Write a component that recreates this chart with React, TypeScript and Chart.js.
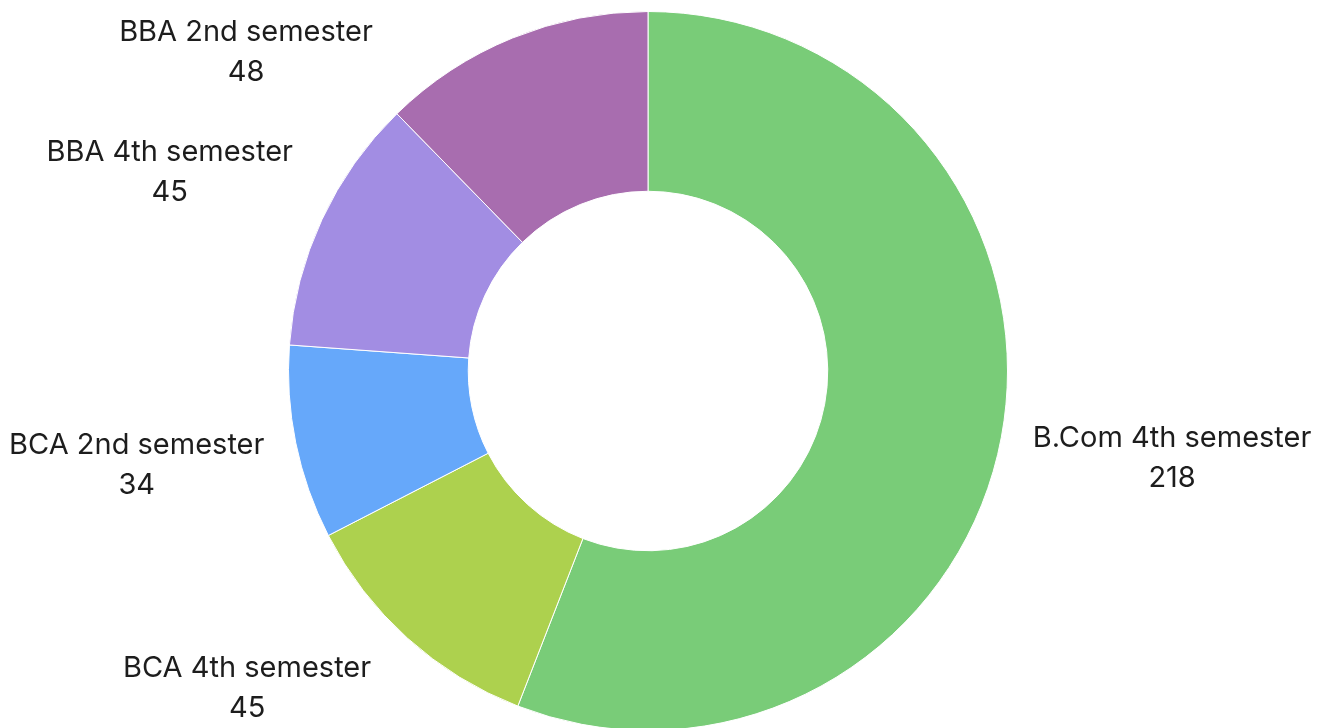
import React, { useEffect, useRef } from "react";
import { Chart, registerables } from "chart.js";

Chart.register(...registerables);

const categories = [
  "B.Com 4th semester",
  "BCA 4th semester",
  "BCA 2nd semester",
  "BBA 4th semester",
  "BBA 2nd semester",
];
const values = [218, 45, 34, 45, 48];
const colors = ["#79CC78", "#ADD14E", "#66A8FA", "#A28DE3", "#A86DAF"];

const W = 1344;
const H = 740;
const FONT = '29px Inter, "Noto Sans", sans-serif';

const labelPlugin = {
  id: "outLabels",
  afterDraw(chart: any) {
    const ctx = chart.ctx as CanvasRenderingContext2D;
    const meta = chart.getDatasetMeta(0);
    ctx.save();
    ctx.font = FONT;
    ctx.fillStyle = "#1d1d1d";
    ctx.textAlign = "center";
    ctx.textBaseline = "middle";
    const gap = 32;
    const lh = 40;
    const h = 80;
    const minY = 12;
    const maxY = 730;
    const step = Math.PI / 360;
    meta.data.forEach((arc: any, i: number) => {
      const { x, y, startAngle, endAngle, outerRadius } = arc.getProps(
        ["x", "y", "startAngle", "endAngle", "outerRadius"],
        true
      );
      const l1 = String(chart.data.labels[i]);
      const l2 = String(chart.data.datasets[0].data[i]);
      const w = Math.max(ctx.measureText(l1).width, ctx.measureText(l2).width);
      let a = (startAngle + endAngle) / 2;
      a = Math.atan2(Math.sin(a), Math.cos(a));
      const place = (ang: number) => {
        const dx = Math.cos(ang);
        const dy = Math.sin(ang);
        const px = x + dx * (outerRadius + gap);
        const py = y + dy * (outerRadius + gap);
        const fx = Math.min(1, Math.abs(dx) / 0.5) * Math.sign(dx);
        const fy = Math.min(1, Math.abs(dy) / 0.5) * Math.sign(dy);
        return { cx: px + (fx * w) / 2, cy: py + (fy * h) / 2 };
      };
      const left = Math.cos(a) < 0;
      let p = place(a);
      let n = 0;
      while (n < 360) {
        const tooHigh = p.cy - h / 2 < minY;
        const tooLow = p.cy + h / 2 > maxY;
        if (!tooHigh && !tooLow) break;
        if (left) a += tooHigh ? -step : step;
        else a += tooHigh ? step : -step;
        p = place(a);
        n++;
      }
      ctx.fillText(l1, p.cx, p.cy - lh / 2);
      ctx.fillText(l2, p.cx, p.cy + lh / 2);
    });
    ctx.restore();
  },
};

export default function App() {
  const ref = useRef<HTMLCanvasElement | null>(null);
  useEffect(() => {
    if (!ref.current) return;
    const chart = new Chart(ref.current, {
      type: "doughnut",
      data: {
        labels: categories,
        datasets: [
          {
            data: values,
            backgroundColor: colors,
            borderColor: "#ffffff",
            borderWidth: 1,
            hoverOffset: 0,
            offset: 0,
          },
        ],
      },
      options: {
        responsive: false,
        animation: false,
        devicePixelRatio: 1,
        cutout: "50%",
        layout: { padding: { top: 11, bottom: 9, left: 0, right: 48 } },
        plugins: {
          legend: { display: false },
          tooltip: { enabled: false },
          title: { display: false },
        },
      },
      plugins: [labelPlugin],
    } as any);
    return () => chart.destroy();
  }, []);
  return (
    <div
      style={{
        position: "fixed",
        left: 0,
        top: 0,
        width: W,
        height: H,
        background: "#ffffff",
      }}
    >
      <canvas ref={ref} width={W} height={H} style={{ display: "block" }} />
    </div>
  );
}
